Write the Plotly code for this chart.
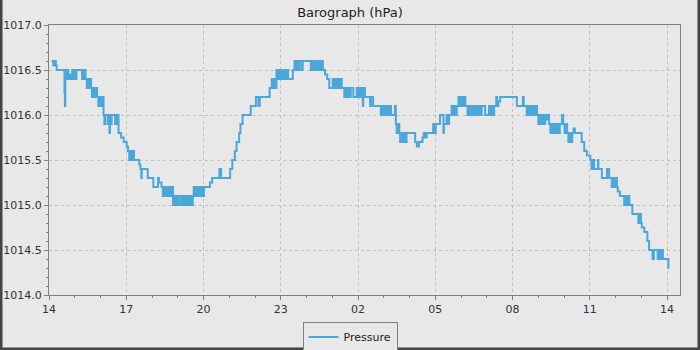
import pandas as pd
import plotly.graph_objects as go

# minutes after 14:00 of the first day, and pressure readings (hPa)
minutes = [
    6, 10, 14, 16, 18, 36, 37, 38, 40, 43, 45, 48, 51, 54, 56, 59, 61, 64, 66,
    77, 79, 81, 83, 85, 88, 90, 93, 96, 98, 100, 103, 106, 109, 112, 115, 118,
    121, 124, 127, 129, 131, 137, 139, 141, 142, 144, 146, 154, 156, 158, 160,
    162, 168, 174, 181, 184, 187, 190, 193, 196, 198, 210, 213, 215, 216, 230,
    243, 254, 256, 262, 265, 268, 271, 274, 277, 280, 283, 286,
    289, 292, 295, 298, 301, 304, 309, 312, 315, 318, 321, 324, 327, 329, 333,
    335, 337, 340, 343, 346, 349, 352, 355, 358, 361, 375, 380, 397, 401, 422,
    427, 433, 437, 443, 446, 451, 470, 482, 488, 491, 514, 519, 522, 525, 528,
    530, 533, 536, 539, 542, 545, 548, 551, 554, 557, 568, 572, 575, 578, 581,
    584, 589, 591, 610, 613, 616, 619, 622, 625, 628, 631, 634, 637, 638, 643,
    648, 653, 661, 664, 667, 670, 673, 676, 679, 682, 688, 691, 694, 697, 700,
    703, 709, 717, 720, 723, 726, 729, 731, 732, 735, 736, 748, 750, 755, 773,
    776, 779, 782, 785, 788, 791, 794, 797, 806, 808, 810, 813, 816, 818, 821,
    824, 827, 830, 833, 853, 857, 862, 870, 873, 876, 880, 895, 898, 901, 911,
    919, 920, 926, 929, 932, 938, 941, 944, 947, 950, 954, 957, 960, 963, 966,
    970, 975, 978, 981, 984, 987, 990, 993, 996, 999, 1002, 1005, 1008, 1016,
    1025, 1028, 1031, 1034, 1037, 1042, 1044, 1047, 1051, 1090, 1104, 1106,
    1113, 1116, 1119, 1122, 1125, 1128, 1131, 1134, 1137, 1140, 1143, 1146,
    1149, 1152, 1156, 1159, 1163, 1165, 1168, 1171, 1174, 1177, 1180, 1183,
    1186, 1190, 1195, 1198, 1201, 1204, 1207, 1210, 1213, 1216, 1219, 1222,
    1225, 1241, 1247, 1253, 1261, 1264, 1267, 1270, 1279, 1280, 1288, 1300,
    1305, 1311, 1314, 1317, 1320, 1323, 1325, 1330, 1340, 1343, 1346, 1349,
    1352, 1359, 1373, 1376, 1379, 1381, 1387, 1394, 1398, 1406, 1409, 1418,
    1421, 1424, 1427, 1430, 1443, 1445,
]
pressure = [
    1016.6, 1016.55, 1016.6, 1016.55, 1016.5, 1016.25, 1016.1, 1016.5, 1016.4,
    1016.5, 1016.4, 1016.45, 1016.4, 1016.5, 1016.4, 1016.5, 1016.4, 1016.5,
    1016.5, 1016.4, 1016.5, 1016.4, 1016.5, 1016.4, 1016.3, 1016.4, 1016.3,
    1016.4, 1016.3, 1016.2, 1016.3, 1016.2, 1016.3, 1016.2, 1016.1, 1016.2,
    1016.1, 1016.2, 1016.0, 1015.9, 1016.0, 1015.9, 1016.0, 1015.8, 1016.0,
    1015.9, 1016.0, 1015.9, 1016.0, 1015.9, 1016.0, 1015.8, 1015.75, 1015.7,
    1015.65, 1015.6, 1015.5, 1015.6, 1015.5, 1015.6, 1015.5, 1015.45, 1015.4,
    1015.3, 1015.4, 1015.3, 1015.2, 1015.3, 1015.25, 1015.2, 1015.1, 1015.2,
    1015.1, 1015.2, 1015.1, 1015.2, 1015.1, 1015.2,
    1015.0, 1015.1, 1015.0, 1015.1, 1015.0, 1015.1, 1015.0, 1015.1, 1015.0,
    1015.1, 1015.0, 1015.1, 1015.0, 1015.1, 1015.0, 1015.1, 1015.2, 1015.1,
    1015.2, 1015.1, 1015.2, 1015.1, 1015.2, 1015.1, 1015.2, 1015.25, 1015.3,
    1015.4, 1015.3, 1015.4, 1015.5, 1015.6, 1015.7, 1015.8, 1015.9, 1016.0,
    1016.1, 1016.2, 1016.1, 1016.2, 1016.3, 1016.4, 1016.3, 1016.4, 1016.3,
    1016.5, 1016.4, 1016.5, 1016.4, 1016.5, 1016.4, 1016.5, 1016.4, 1016.5,
    1016.4, 1016.5, 1016.6, 1016.5, 1016.6, 1016.5, 1016.6, 1016.5, 1016.6,
    1016.5, 1016.6, 1016.5, 1016.6, 1016.5, 1016.6, 1016.5, 1016.6, 1016.5,
    1016.6, 1016.5, 1016.45, 1016.4, 1016.3, 1016.4, 1016.3, 1016.4, 1016.3,
    1016.4, 1016.3, 1016.4, 1016.3, 1016.2, 1016.3, 1016.2, 1016.3, 1016.2,
    1016.3, 1016.2, 1016.3, 1016.2, 1016.3, 1016.2, 1016.3, 1016.1, 1016.2,
    1016.3, 1016.2, 1016.1, 1016.2, 1016.1, 1016.0, 1016.1, 1016.0, 1016.1,
    1016.0, 1016.1, 1016.0, 1016.1, 1016.0, 1016.1, 1015.9, 1015.8, 1015.9,
    1015.8, 1015.7, 1015.8, 1015.7, 1015.8, 1015.7, 1015.8, 1015.7, 1015.65,
    1015.7, 1015.75, 1015.8, 1015.75, 1015.8, 1015.9, 1015.8, 1015.9, 1016.0,
    1015.8, 1015.9, 1016.0, 1015.9, 1016.0, 1016.1, 1016.0, 1016.1, 1016.0,
    1016.1, 1016.2, 1016.1, 1016.2, 1016.1, 1016.2, 1016.1, 1016.0, 1016.1,
    1016.0, 1016.1, 1016.0, 1016.1, 1016.0, 1016.1, 1016.0, 1016.1, 1016.0,
    1016.1, 1016.0, 1016.1, 1016.0, 1016.1, 1016.0, 1016.1, 1016.2, 1016.1,
    1016.15, 1016.2, 1016.1, 1016.2, 1016.1, 1016.0, 1016.1, 1016.0, 1016.1,
    1016.0, 1016.1, 1016.0, 1016.1, 1016.0, 1015.9, 1016.0, 1015.9, 1016.0,
    1015.9, 1016.0, 1015.95, 1016.0, 1015.9, 1015.8, 1015.9, 1015.8, 1015.9,
    1015.8, 1015.9, 1015.8, 1015.9, 1016.0, 1015.9, 1015.8, 1015.9, 1015.8,
    1015.7, 1015.8, 1015.7, 1015.8, 1015.85, 1015.8, 1015.7, 1015.6, 1015.55,
    1015.5, 1015.4, 1015.5, 1015.4, 1015.5, 1015.4, 1015.3, 1015.4, 1015.3,
    1015.2, 1015.3, 1015.2, 1015.3, 1015.2, 1015.15, 1015.1, 1015.0, 1015.1,
    1015.0, 1015.1, 1015.0, 1014.9, 1014.8, 1014.9, 1014.8, 1014.75, 1014.7,
    1014.6, 1014.5, 1014.4, 1014.5, 1014.4, 1014.5, 1014.4, 1014.5, 1014.4,
    1014.3, 1014.3,
]
series_name = "Pressure"
chart_title = "Barograph (hPa)"

start = pd.Timestamp("2024-03-14 14:00")
times = [start + pd.Timedelta(minutes=m) for m in minutes]
x_end = start + pd.Timedelta(hours=24.5)

BG = "#e8e8e8"
LINE = "#4ba7da"
FONT = "DejaVu Sans, Verdana, sans-serif"
GRID_DASH = "3px,3px"

fig = go.Figure()
fig.add_trace(go.Scatter(
    x=times, y=pressure, mode="lines", name=series_name,
    line=dict(color=LINE, width=2, shape="hv"),
))

fig.update_layout(
    width=700, height=350,
    margin=dict(l=49, r=20, t=25, b=55, autoexpand=False),
    paper_bgcolor=BG, plot_bgcolor=BG,
    font=dict(family=FONT, size=11, color="#333333"),
    title=dict(text=chart_title, x=0.5, xref="container", xanchor="center",
               y=1 - 12 / 350, yref="container", yanchor="middle",
               font=dict(family=FONT, size=13, color="#222222")),
    showlegend=True,
    legend=dict(orientation="h", x=0.5, xref="container", xanchor="center",
                y=13 / 350, yref="container", yanchor="middle",
                bgcolor=BG, bordercolor="#808080", borderwidth=1,
                font=dict(family=FONT, size=11, color="#222222"),
                itemwidth=30),
    shapes=[dict(type="rect", xref="paper", yref="paper",
                 x0=-49 / 631 + 0.0016, x1=(700 - 49) / 631 - 0.0016,
                 y0=-55 / 270 + 0.004, y1=(350 - 25) / 270 - 0.004,
                 line=dict(color="#444444", width=3), layer="above")],
)
fig.update_xaxes(
    range=[start, x_end], type="date", automargin=False,
    tickformat="%H", dtick=3 * 3600 * 1000, tick0=start,
    ticks="outside", ticklen=4, tickcolor="#808080",
    showline=True, linecolor="#808080", linewidth=1, mirror=True,
    showgrid=True, gridcolor="#c0c0c0", griddash=GRID_DASH, gridwidth=1,
    zeroline=False,
    tickfont=dict(family=FONT, size=11, color="#333333"),
    minor=dict(dtick=3600 * 1000, ticks="outside", ticklen=2,
               tickcolor="#808080", showgrid=False),
)
fig.update_yaxes(
    range=[1014.0, 1017.0], dtick=0.5, tick0=1014.0, tickformat=".1f",
    automargin=False,
    ticks="outside", ticklen=4, tickcolor="#808080",
    showline=True, linecolor="#808080", linewidth=1, mirror=True,
    showgrid=True, gridcolor="#c0c0c0", griddash=GRID_DASH, gridwidth=1,
    zeroline=False,
    tickfont=dict(family=FONT, size=11, color="#333333"),
    minor=dict(dtick=0.1, ticks="outside", ticklen=2,
               tickcolor="#808080", showgrid=False),
)

fig.write_html("out.html", config={"displayModeBar": False},
               post_script="document.body.style.margin='0';")
